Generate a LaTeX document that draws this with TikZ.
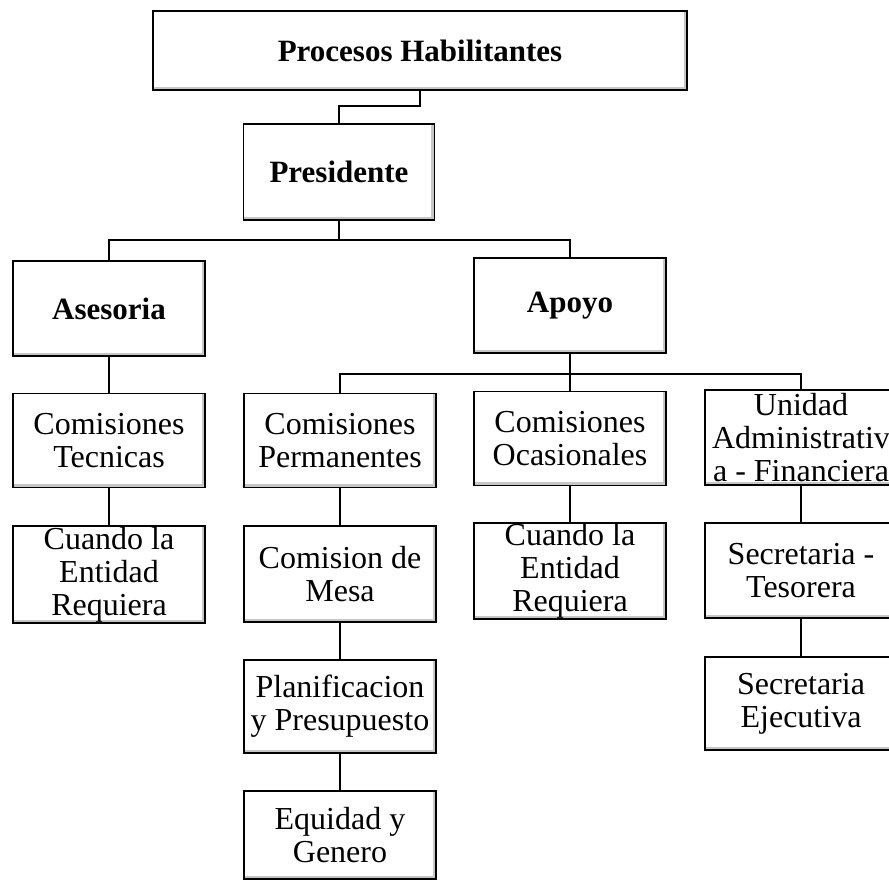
\documentclass[tikz,border=0pt]{standalone}
\usepackage{fontspec}
\setmainfont{Liberation Serif}
\usepackage{tikz}

\begin{document}
\begin{tikzpicture}[x=1pt,y=-1pt,
    box/.style={draw, line width=1.5pt, minimum width=192pt, minimum height=95pt,
        inner sep=0pt, align=center, font=\fontsize{32}{33}\selectfont,
        path picture={\draw[gray!45, line width=2.5pt]
            ([xshift=-2pt]path picture bounding box.north east)
            -- ([xshift=-2pt,yshift=2pt]path picture bounding box.south east)
            -- ([yshift=2pt]path picture bounding box.south west);}},
    head/.style={box, font=\fontsize{31}{33}\selectfont\bfseries},
    link/.style={line width=1.5pt}]
                % Page frame
                \useasboundingbox (0,0) rectangle (889,883);
                \clip (0,0) rectangle (889,883);
                
                % Top levels
                \node[head, minimum width=534pt, minimum height=79pt] (proc) at (420,50.5) {Procesos Habilitantes};
                \node[head, minimum width=191pt, minimum height=96pt] (pres) at (339,172) {Presidente};
                
                % Second level
                \node[head] (ases) at (109,308.5) {Asesoria};
                \node[head] (apoyo) at (570,305.5) {Apoyo};
                
                % Third level
                \node[box, minimum height=94pt] (comtec) at (109,440.5) {Comisiones\\Tecnicas};
                \node[box, minimum height=94pt] (comper) at (340,440.5) {Comisiones\\Permanentes};
                \node[box, minimum height=94pt] (comoca) at (570,438.5) {Comisiones\\Ocasionales};
                \node[box] (unidad) at (801,437.5) {Unidad\\Administrativ\\a - Financiera};
                
                % Fourth level
                \node[box, minimum height=97pt] (cuandoa) at (109,574.5) {Cuando la\\Entidad\\Requiera};
                \node[box, minimum height=96pt] (mesa) at (340,574) {Comision de\\Mesa};
                \node[box, minimum height=96pt] (cuandob) at (570,571) {Cuando la\\Entidad\\Requiera};
                \node[box, minimum height=95pt] (tesor) at (801,570.5) {Secretaria -\\Tesorera};
                
                % Lower levels
                \node[box, minimum height=93pt] (planif) at (340,706.5) {Planificacion\\y Presupuesto};
                \node[box, minimum height=93pt] (ejec) at (801,703.5) {Secretaria\\Ejecutiva};
                \node[box, minimum height=88pt] (equidad) at (340,835) {Equidad y\\Genero};
                
                % Branches
                \draw[link] (proc.south) -- ++(0,15) -| (pres.north);
                \draw[link] (pres.south) -- ++(0,19) coordinate (bus1);
                \draw[link] (ases.north) |- (bus1) -| (apoyo.north);
                \draw[link] (apoyo.south) -- ++(0,20) coordinate (bus2);
                \draw[link] (comper.north) |- (bus2) -| (unidad.north);
                \draw[link] (bus2) -- (comoca.north);
                
                % Columns
                \draw[link] (ases) -- (comtec);
                \draw[link] (comtec) -- (cuandoa);
                \draw[link] (comper) -- (mesa);
                \draw[link] (mesa) -- (planif);
                \draw[link] (planif) -- (equidad);
                \draw[link] (comoca) -- (cuandob);
                \draw[link] (unidad) -- (tesor);
                \draw[link] (tesor) -- (ejec);
                
            \end{tikzpicture}
\end{document}
